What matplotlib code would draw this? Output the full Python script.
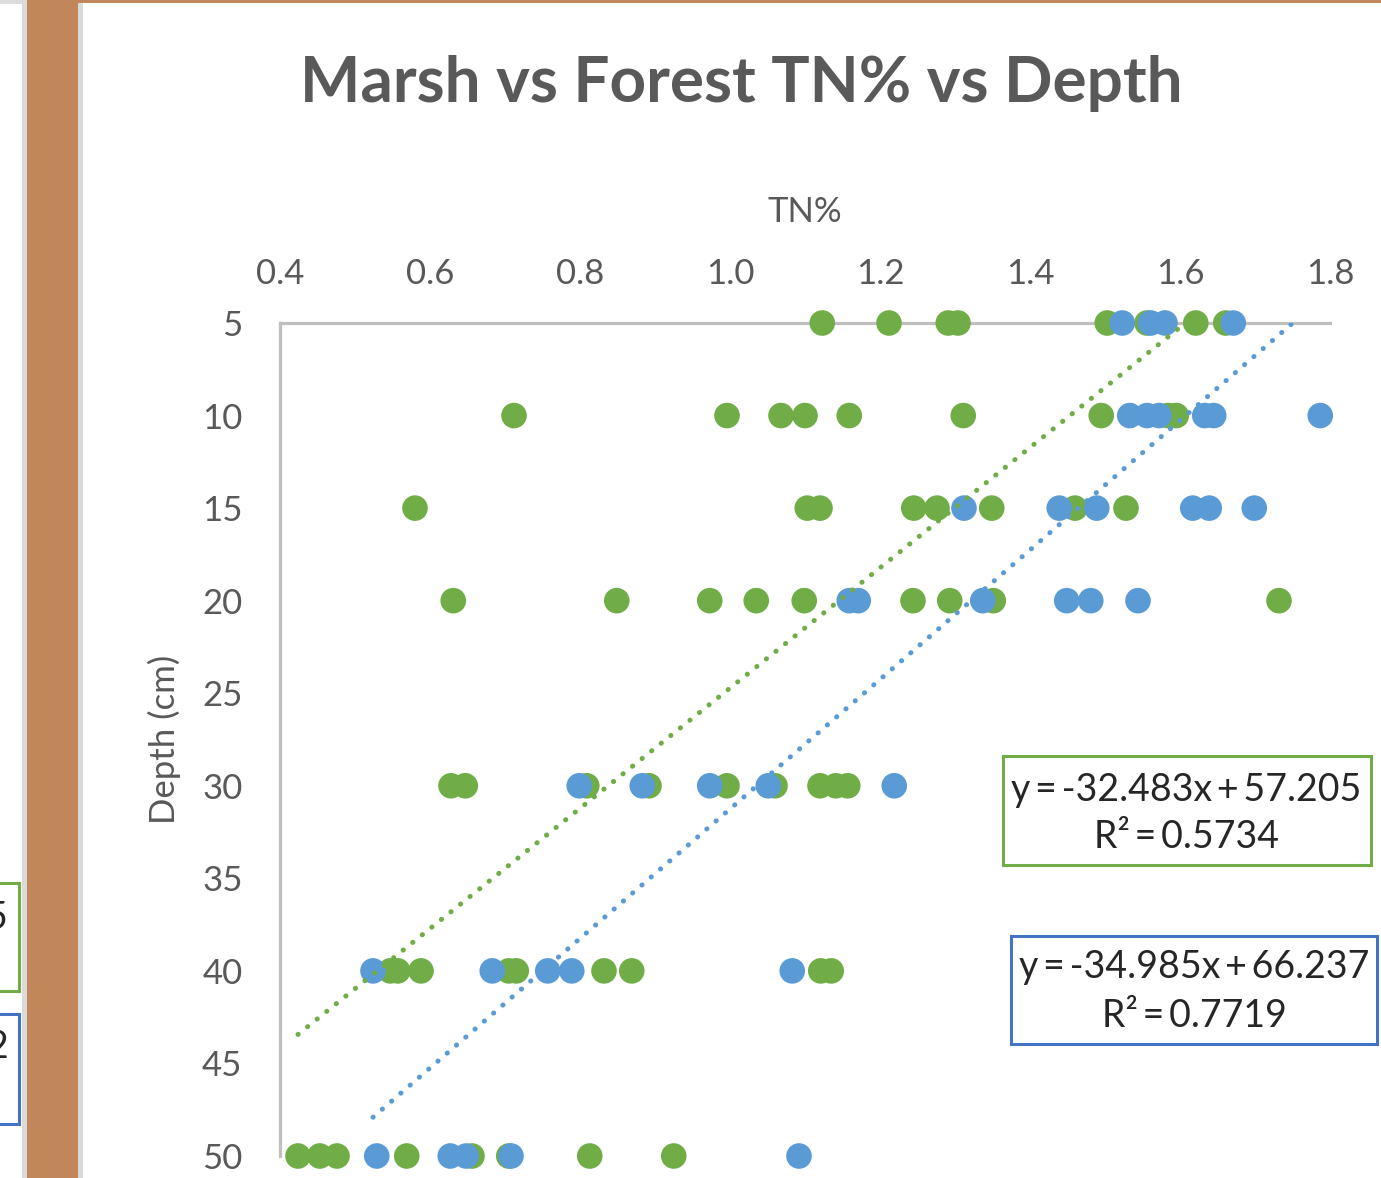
import numpy as np
import matplotlib
matplotlib.use("Agg")
import matplotlib.pyplot as plt
from matplotlib.patches import Rectangle

# ---- data -------------------------------------------------------------
marsh_depth = [5] * 8 + [10] * 9 + [15] * 8 + [20] * 9 + [30] * 9 + [40] * 9 + [50] * 8
marsh_tn = [
    1.123, 1.212, 1.291, 1.304, 1.503, 1.556, 1.621, 1.661,
    0.712, 0.996, 1.068, 1.100, 1.159, 1.311, 1.495, 1.584, 1.595,
    0.580, 1.103, 1.120, 1.245, 1.276, 1.349, 1.460, 1.528,
    0.631, 0.849, 0.973, 1.035, 1.099, 1.244, 1.293, 1.351, 1.732,
    0.628, 0.647, 0.809, 0.892, 0.996, 1.060, 1.120, 1.141, 1.157,
    0.547, 0.557, 0.588, 0.705, 0.715, 0.832, 0.869, 1.121, 1.135,
    0.424, 0.453, 0.476, 0.569, 0.656, 0.705, 0.813, 0.925,
]

forest_depth = [5] * 4 + [10] * 6 + [15] * 6 + [20] * 6 + [30] * 5 + [40] * 5 + [50] * 5
forest_tn = [
    1.523, 1.561, 1.580, 1.671,
    1.533, 1.556, 1.572, 1.633, 1.645, 1.787,
    1.312, 1.439, 1.489, 1.617, 1.639, 1.699,
    1.159, 1.171, 1.337, 1.449, 1.481, 1.544,
    0.799, 0.883, 0.973, 1.051, 1.219,
    0.524, 0.683, 0.757, 0.789, 1.083,
    0.529, 0.627, 0.648, 0.708, 1.092,
]

# linear trend coefficients (depth = slope * TN + intercept) and R²
marsh_fit = [-32.483, 57.205, 0.5734]
forest_fit = [-34.985, 66.237, 0.7719]

x_ticks = [0.4, 0.6, 0.8, 1.0, 1.2, 1.4, 1.6, 1.8]
y_ticks = [5, 10, 15, 20, 25, 30, 35, 40, 45, 50]

# ---- styling ----------------------------------------------------------
GREEN = "#70AD47"
BLUE = "#5B9BD5"
BOX_BLUE = "#4472C4"
GREY_TXT = "#595959"
AXIS_GREY = "#BFBFBF"
BROWN = "#C1875B"
FONT = ["Lato", "DejaVu Sans"]
THIN = "\u2009"

W, H = 1381, 1178
fig = plt.figure(figsize=(W / 100, H / 100), dpi=100)
fig.patch.set_facecolor("white")


def px_rect(x0, y0, x1, y1, **kw):
    """Rectangle given in pixel coordinates measured from the top-left."""
    r = Rectangle((x0 / W, 1 - y1 / H), (x1 - x0) / W, (y1 - y0) / H,
                  transform=fig.transFigure, **kw)
    fig.add_artist(r)
    return r


# window chrome: neighbouring sheet on the left, brown divider, top rule
px_rect(0, 0, 23, H, facecolor="white", edgecolor="none")
px_rect(0, 0, 23, 4, facecolor="#DCDCDC", edgecolor="none")
px_rect(22, 0, 28, H, facecolor="#DADADA", edgecolor="none")
px_rect(27, 0, 79, H, facecolor=BROWN, edgecolor="none")
px_rect(78, 0, 83, H, facecolor="#DADADA", edgecolor="none")
px_rect(78, 0, W, 3, facecolor=BROWN, edgecolor="none")

# partial equation boxes of the neighbouring chart
px_rect(-40, 883, 19, 991, facecolor="white", edgecolor=GREEN, linewidth=2.2)
px_rect(-40, 1014, 19, 1124, facecolor="white", edgecolor=BOX_BLUE, linewidth=2.2)
fig.text(8 / W, 1 - 918 / H, "5", ha="right", va="center", fontsize=27,
         family=FONT, color="#262626")
fig.text(8 / W, 1 - 1047 / H, "2", ha="right", va="center", fontsize=27,
         family=FONT, color="#262626")

# ---- plot area --------------------------------------------------------
ax = fig.add_axes([280 / W, 1 - 1156 / H, 1050 / W, 833 / H])
ax.set_facecolor("none")
ax.set_xlim(0.4, 1.8)
ax.set_ylim(50, 5)

ax.scatter(marsh_tn, marsh_depth, s=340, color=GREEN, edgecolors="none",
           zorder=3, clip_on=False)
ax.scatter(forest_tn, forest_depth, s=340, color=BLUE, edgecolors="none",
           zorder=4, clip_on=False)

for tn, fit, col in ((marsh_tn, marsh_fit, GREEN), (forest_tn, forest_fit, BLUE)):
    xs = np.linspace(min(tn), max(tn), 200)
    ax.plot(xs, fit[0] * xs + fit[1], color=col, linewidth=3.6,
            linestyle=(0, (0.05, 2.4)), dash_capstyle="round", zorder=5)

for side in ("right", "bottom"):
    ax.spines[side].set_visible(False)
for side in ("top", "left"):
    ax.spines[side].set_color(AXIS_GREY)
    ax.spines[side].set_linewidth(2.3)
    ax.spines[side].set_zorder(2)

ax.xaxis.tick_top()
ax.xaxis.set_label_position("top")
ax.set_xticks(x_ticks)
ax.set_xticklabels([f"{v:.1f}" for v in x_ticks])
ax.set_yticks(y_ticks)
ax.set_yticklabels([str(v) for v in y_ticks])
ax.tick_params(axis="both", length=0, labelsize=25, labelcolor=GREY_TXT)
ax.tick_params(axis="x", pad=24)
ax.tick_params(axis="y", pad=27)
for lab in ax.get_xticklabels() + ax.get_yticklabels():
    lab.set_family(FONT)

ax.set_xlabel("TN%", fontsize=25, color=GREY_TXT, family=FONT, labelpad=26)
ax.set_ylabel("Depth (cm)", fontsize=25, color=GREY_TXT, family=FONT, labelpad=15)

fig.text(741 / W, 1 - 84 / H, "Marsh vs Forest TN% vs Depth", ha="center",
         va="center", fontsize=46, fontweight="bold", color=GREY_TXT, family=FONT)

# ---- trendline equation boxes ----------------------------------------
px_rect(1003, 756, 1371, 865, facecolor="white", edgecolor=GREEN, linewidth=2.2,
        zorder=6)
px_rect(1011, 936, 1377, 1044, facecolor="white", edgecolor=BOX_BLUE, linewidth=2.2,
        zorder=6)

for fit, cx, y1, y2 in ((marsh_fit, 1186, 790, 837), (forest_fit, 1194, 967, 1016)):
    eq = f"y{THIN}={THIN}{fit[0]:.3f}x{THIN}+{THIN}{fit[1]:.3f}"
    r2 = f"R²{THIN}={THIN}{fit[2]:.4f}"
    fig.text(cx / W, 1 - y1 / H, eq, ha="center", va="center", fontsize=27,
             family=FONT, color="#262626", zorder=7)
    fig.text(cx / W, 1 - y2 / H, r2, ha="center", va="center", fontsize=27,
             family=FONT, color="#262626", zorder=7)

fig.savefig("out.png", dpi=100, facecolor="white")
